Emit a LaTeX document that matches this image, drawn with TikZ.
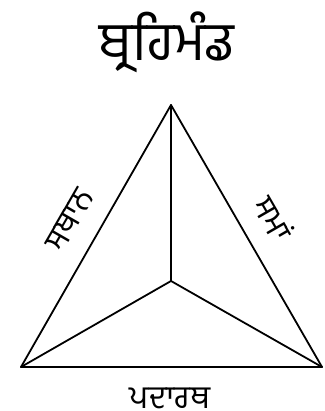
\documentclass[tikz,border=0pt]{standalone}
\usepackage{fontspec}
\newfontfamily\gurfont[Script=Gurmukhi]{Hind Jalandhar}
\begin{document}
\begin{tikzpicture}[x=1pt,y=-1pt,
  edge/.style={line width=1.8pt,line join=round,line cap=round},
  lbl/.style={font=\gurfont\fontsize{32}{36}\selectfont,inner sep=0pt}]
\useasboundingbox (0,0) rectangle (324,411);
\coordinate (A) at (171,105);
\coordinate (L) at (21,367);
\coordinate (R) at (322,367);
\coordinate (C) at (171,281);
\draw[edge] (A) -- (L) -- (R) -- cycle;
\draw[edge] (A) -- (C);
\draw[edge] (L) -- (C) -- (R);
\node[font=\gurfont\fontsize{54}{60}\selectfont,inner sep=0pt] (title) at (167,42) {ਬ੍ਰਹਿਮੰਡ};
\node[lbl,rotate=60] (space) at (70,220) {ਸਥਾਨ};
\node[lbl,rotate=-60] (time) at (274,218) {ਸਮਾਂ};
\node[lbl,anchor=base,text depth=0pt] (matter) at (170,408) {ਪਦਾਰਥ};
\end{tikzpicture}
\end{document}
